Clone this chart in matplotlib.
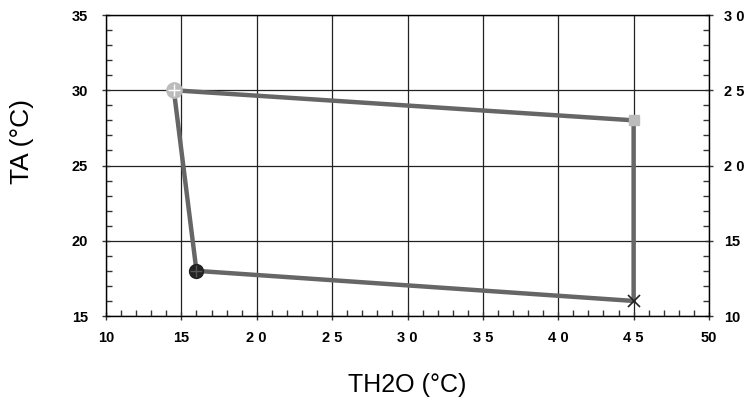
import numpy as np
import matplotlib.pyplot as plt
from matplotlib.ticker import MultipleLocator, FixedLocator, FixedFormatter

plt.rcParams['font.family'] = ['Liberation Sans', 'DejaVu Sans']

# cycle points (TH2O, TA)
th2o = [14.5, 45, 45, 16, 14.5]
ta = [30, 28, 16, 18, 30]

xticks = [10, 15, 20, 25, 30, 35, 40, 45, 50]
xlabels = ["10", "15", "2 0", "2 5", "3 0", "3 5", "4 0", "4 5", "50"]
yticks = [15, 20, 25, 30, 35]
ylabels = ["15", "20", "25", "30", "35"]
y2ticks = [10, 15, 20, 25, 30]
y2labels = ["10", "15", "2 0", "2 5", "3 0"]

fig = plt.figure(figsize=(7.44, 4), dpi=100)
ax = fig.add_axes([106/744, 1-316/400, (709-106)/744, (316-15)/400])

ax.set_xlim(10, 50)
ax.set_ylim(15, 35)
ax.xaxis.set_major_locator(FixedLocator(xticks))
ax.xaxis.set_major_formatter(FixedFormatter(xlabels))
ax.yaxis.set_major_locator(FixedLocator(yticks))
ax.yaxis.set_major_formatter(FixedFormatter(ylabels))
ax.xaxis.set_minor_locator(MultipleLocator(1))
ax.yaxis.set_minor_locator(MultipleLocator(1))
ax.grid(True, which='major', color='#222222', lw=0.9)
ax.set_axisbelow(True)

for s in ax.spines.values():
    s.set_color('#333333')
    s.set_linewidth(1.0)

ax.tick_params(which='major', direction='inout', length=6, width=1, color='#333333',
               labelsize=10.5)
ax.tick_params(axis='y', which='major', pad=10)
ax.tick_params(axis='x', which='major', pad=8)
ax.tick_params(which='minor', direction='in', length=4, width=1, color='#333333')
for lab in ax.get_xticklabels() + ax.get_yticklabels():
    lab.set_fontweight('bold')

ax.plot(th2o, ta, color='#666666', lw=3.2, solid_joinstyle='miter', zorder=3)

ax.plot(th2o[0], ta[0], 'o', ms=11, color='#bbbbbb', zorder=4)
ax.plot(th2o[0], ta[0], '+', ms=9, color='white', mew=1, zorder=5)
ax.plot(th2o[1], ta[1], 's', ms=7, color='#bbbbbb', zorder=4)
ax.plot(th2o[2], ta[2], 'x', ms=9, color='#222222', mew=1.2, zorder=5)
ax.plot(th2o[3], ta[3], 'o', ms=10, color='#222222', zorder=4)
ax.plot(th2o[3], ta[3], '+', ms=8, color='#555555', mew=1, zorder=5)

ax2 = ax.twinx()
ax2.set_ylim(10, 30)
ax2.yaxis.set_major_locator(FixedLocator(y2ticks))
ax2.yaxis.set_major_formatter(FixedFormatter(y2labels))
ax2.yaxis.set_minor_locator(MultipleLocator(1))
ax2.tick_params(which='major', direction='inout', length=6, width=1, color='#333333',
                labelsize=10.5, pad=8)
ax2.tick_params(which='minor', direction='in', length=4, width=1, color='#333333')
for lab in ax2.get_yticklabels():
    lab.set_fontweight('bold')

fig.text(407/744, 1-385/400, "TH2O (°C)", fontsize=18, ha='center', va='center')
fig.text(22/744, 1-142/400, "TA (°C)", fontsize=19, ha='center', va='center',
         rotation=90)

fig.savefig("out.png", dpi=100)
